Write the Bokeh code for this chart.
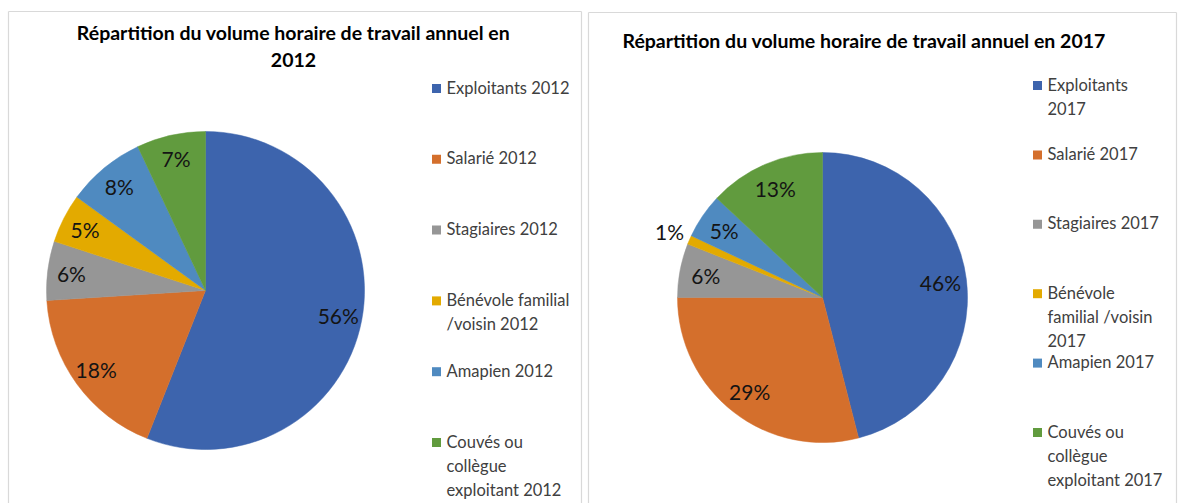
import math
from bokeh.plotting import figure
from bokeh.models import Range1d
from bokeh.core.properties import value
from bokeh.embed import file_html
from bokeh.resources import INLINE

# ---- data ----
cats_2012 = ["Exploitants 2012", "Salarié 2012", "Stagiaires 2012",
             "Bénévole familial\n/voisin 2012", "Amapien 2012",
             "Couvés ou\ncollègue\nexploitant 2012"]
vals_2012 = [56, 18, 6, 5, 8, 7]
cats_2017 = ["Exploitants\n2017", "Salarié 2017", "Stagiaires 2017",
             "Bénévole\nfamilial  /voisin\n2017", "Amapien 2017",
             "Couvés ou\ncollègue\nexploitant 2017"]
vals_2017 = [46, 29, 6, 1, 5, 13]
title_2012 = "Répartition du volume horaire de travail annuel en\n2012"
title_2017 = "Répartition du volume horaire de travail annuel en 2017"
colors = ["#3D64AD", "#D46F2C", "#969696", "#E3AA00", "#4F8AC0", "#619B3E"]

W, H = 1179, 503
FONT = "Lato"

p = figure(width=W, height=H, output_backend="svg", toolbar_location=None,
           x_range=Range1d(0, W), y_range=Range1d(503 - H, 503),
           min_border=0, outline_line_color=None)
p.axis.visible = False
p.grid.visible = False
p.background_fill_color = "white"
p.border_fill_color = "white"

def Y(sy):
    return 503 - sy

# panel borders
p.segment(x0=[8, 8, 581, 588, 588, 1176], y0=[Y(11), Y(11), Y(11), Y(12), Y(12), Y(12)],
          x1=[8, 581, 581, 588, 1176, 1176], y1=[Y(503), Y(11), Y(503), Y(503), Y(12), Y(503)],
          line_color="#D9D9D9", line_width=1.2)

def pie(vals, cats, cx, cy, r, lab_frac, leg_x, leg_y0, leg_step):
    total = float(sum(vals))
    a = 0.0
    for v, c in zip(vals, colors):
        b = a + v / total
        p.wedge(x=[cx], y=[Y(cy)], radius=r, radius_units="data",
                start_angle=math.pi / 2 - 2 * math.pi * b,
                end_angle=math.pi / 2 - 2 * math.pi * a,
                fill_color=c, line_color=c, line_width=0.5)
        mid = 2 * math.pi * (a + b) / 2
        frac = lab_frac if v / total >= 0.02 else 1.15
        lx = cx + frac * r * math.sin(mid)
        ly = cy - frac * r * math.cos(mid)
        p.text(x=[lx], y=[Y(ly)], text=["%d%%" % round(100 * v / total)],
               text_font=value(FONT), text_font_size="21px", text_color="#141414",
               text_align="center", text_baseline="middle")
        a = b
    for i, (c, t) in enumerate(zip(colors, cats)):
        yy = leg_y0 + i * leg_step
        p.rect(x=[leg_x], y=[Y(yy)], width=9, height=9, width_units="screen",
               height_units="screen", fill_color=c, line_color=None)
        p.text(x=[leg_x + 10], y=[Y(yy - 11)], text=[t], text_font=value(FONT),
               text_font_size="16.5px", text_color="#404040", text_align="left",
               text_baseline="top", text_line_height=1.2)

pie(vals_2012, cats_2012, 205, 290, 159, 0.85, 436, 88, 70.8)
pie(vals_2017, cats_2017, 822, 297, 145, 0.82, 1037, 85, 69.4)

p.text(x=[293], y=[Y(20)], text=[title_2012], text_font=value(FONT),
       text_font_size="19.5px", text_font_style="bold", text_color="#000000",
       text_align="center", text_baseline="top", text_line_height=1.2)
p.text(x=[622], y=[Y(40)], text=[title_2017], text_font=value(FONT),
       text_font_size="19.5px", text_font_style="bold", text_color="#000000",
       text_align="left", text_baseline="middle")

open("out.html", "w").write(file_html(p, INLINE))
